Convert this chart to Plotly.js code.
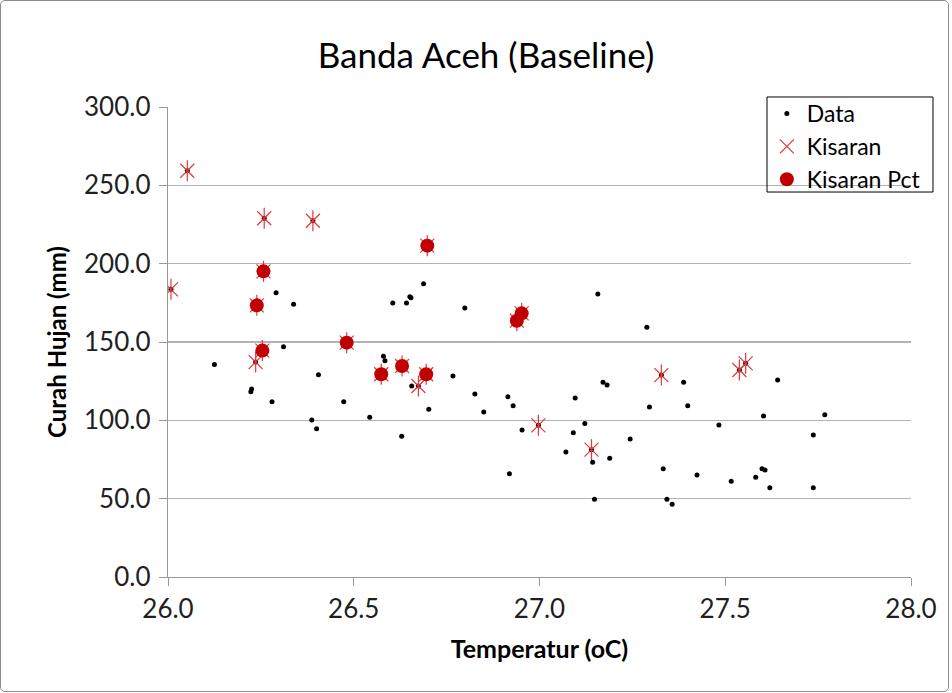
<!DOCTYPE html>
<html>
<head>
<meta charset="utf-8">
<script src="https://cdn.plot.ly/plotly-3.0.1.min.js"></script>
<style>
  html, body { margin: 0; padding: 0; background: #fff; }
  #wrap { position: relative; width: 952px; height: 693px; }
  #chart { width: 952px; height: 693px; }
  #frame { position: absolute; left: 0; top: 0; width: 947px; height: 690px; border: 1px solid #8c8c8c; border-radius: 5px; pointer-events: none; }
</style>
</head>
<body>
<div id="wrap"><div id="chart"></div><div id="frame"></div></div>
<script>
// Data series (all observations)
const dataTemp = [
  26.052, 26.259, 26.390, 26.008, 26.236, 26.674, 26.997, 27.140, 27.328, 27.538, 27.555,
  26.257, 26.239, 26.254, 26.481, 26.698, 26.952, 26.939, 26.574, 26.630, 26.695,
  26.291, 26.338, 26.125, 26.311, 26.223, 26.225, 26.280, 26.405, 26.473, 26.387, 26.400,
  26.688, 26.651, 26.654, 26.605, 26.642, 26.799, 26.580, 26.584, 26.656, 26.767, 26.826,
  26.915, 26.929, 26.850, 26.702, 26.543, 26.629, 26.953, 26.919, 27.157, 27.289, 27.388,
  27.171, 27.182, 27.096, 27.296, 27.399, 27.122, 27.091, 27.483, 27.244, 27.071, 27.143,
  27.189, 27.333, 27.424, 27.148, 27.343, 27.357, 27.641, 27.603, 27.768, 27.737, 27.599,
  27.607, 27.582, 27.516, 27.620, 27.737
];
const dataRain = [
  259.3, 229.0, 227.4, 183.6, 137.2, 121.9, 96.8, 81.3, 128.9, 132.1, 136.4,
  195.1, 173.4, 144.5, 149.6, 211.5, 168.3, 163.6, 129.4, 134.7, 129.4,
  181.5, 174.1, 135.7, 147.0, 118.3, 120.0, 111.9, 129.1, 111.9, 100.2, 94.7,
  187.2, 178.9, 178.3, 174.9, 174.9, 171.7, 140.9, 138.1, 121.9, 128.3, 116.8,
  115.1, 109.3, 105.3, 107.0, 101.9, 89.8, 93.8, 65.9, 180.6, 159.4, 124.3,
  124.3, 122.6, 114.3, 108.5, 109.3, 97.9, 92.1, 97.0, 88.1, 79.8, 73.2,
  75.8, 69.1, 65.1, 49.6, 49.6, 46.4, 125.7, 102.8, 103.6, 90.6, 69.1,
  68.3, 63.6, 61.1, 57.0, 57.0
];

// Kisaran series
const kisaranTemp = [
  26.052, 26.259, 26.390, 26.008, 26.236, 26.674, 26.997, 27.140, 27.328, 27.538, 27.555,
  26.257, 26.239, 26.254, 26.481, 26.698, 26.952, 26.939, 26.574, 26.630, 26.695
];
const kisaranRain = [
  259.3, 229.0, 227.4, 183.6, 137.2, 121.9, 96.8, 81.3, 128.9, 132.1, 136.4,
  195.1, 173.4, 144.5, 149.6, 211.5, 168.3, 163.6, 129.4, 134.7, 129.4
];

// Kisaran Pct series
const pctTemp = [26.257, 26.239, 26.254, 26.481, 26.698, 26.952, 26.939, 26.574, 26.630, 26.695];
const pctRain = [195.1, 173.4, 144.5, 149.6, 211.5, 168.3, 163.6, 129.4, 134.7, 129.4];

const xTicks = [26.0, 26.5, 27.0, 27.5, 28.0];
const yTicks = [0, 50, 100, 150, 200, 250, 300];

const FONT = 'Lato, "Open Sans", sans-serif';
const starColor = '#e2383a';

const traces = [
  {
    x: dataTemp, y: dataRain, type: 'scatter', mode: 'markers', name: 'Data',
    marker: { color: '#000000', size: 5, symbol: 'circle' }
  },
  {
    x: kisaranTemp, y: kisaranRain, type: 'scatter', mode: 'markers', name: 'Kisaran',
    marker: { color: starColor, size: 14, symbol: 'x-thin-open', line: { color: starColor, width: 1.2 } }
  },
  {
    x: kisaranTemp, y: kisaranRain, type: 'scatter', mode: 'markers', name: 'Kisaran',
    showlegend: false, hoverinfo: 'skip',
    marker: { color: starColor, size: 15, symbol: 'line-ns-open', line: { color: starColor, width: 1.2 } }
  },
  {
    x: pctTemp, y: pctRain, type: 'scatter', mode: 'markers', name: 'Kisaran Pct',
    marker: { color: '#c00000', size: 14, symbol: 'circle' }
  }
];

const layout = {
  width: 952, height: 693,
  margin: { l: 168, r: 41, t: 107, b: 116 },
  paper_bgcolor: '#ffffff', plot_bgcolor: '#ffffff',
  font: { family: FONT, color: '#222' },
  title: {
    text: 'Banda Aceh (Baseline)',
    font: { family: FONT, size: 35, color: '#000' },
    x: 0.5105, xanchor: 'center', xref: 'container',
    y: 0.92, yanchor: 'middle', yref: 'container'
  },
  xaxis: {
    range: [26.0, 28.0],
    tickvals: xTicks, tickformat: '.1f',
    ticks: 'outside', ticklen: 8, tickcolor: '#999', tickwidth: 1,
    showline: true, linecolor: '#999', linewidth: 1.3,
    showgrid: false, zeroline: false,
    tickfont: { family: FONT, size: 26, color: '#1f1f1f' },
    title: { text: '<b>Temperatur (oC)</b>', font: { family: FONT, size: 25, color: '#000' }, standoff: 18 }
  },
  yaxis: {
    range: [0, 300],
    tickvals: yTicks, tickformat: '.1f',
    ticks: 'outside', ticklen: 8, tickcolor: '#999', tickwidth: 1,
    ticklabelstandoff: 3,
    showline: true, linecolor: '#999', linewidth: 1.3,
    showgrid: true, gridcolor: '#b3b3b3', gridwidth: 1.3,
    zeroline: false,
    tickfont: { family: FONT, size: 26, color: '#1f1f1f' },
    title: { text: '<b>Curah Hujan (mm)</b>', font: { family: FONT, size: 24, color: '#000' }, standoff: 10 }
  },
  legend: {
    x: 0.806, y: 1.032, xanchor: 'left', yanchor: 'top',
    bgcolor: 'rgba(0,0,0,0)', bordercolor: 'rgba(0,0,0,0)', borderwidth: 0,
    font: { family: FONT, size: 23, color: '#000' },
    tracegroupgap: 0, itemwidth: 30
  },
  shapes: [{
    type: 'rect', xref: 'paper', yref: 'paper',
    x0: 0.8062, x1: 1.0296, y0: 0.8191, y1: 1.0213,
    line: { color: '#000', width: 1 }, fillcolor: 'rgba(0,0,0,0)', layer: 'above'
  }],
  showlegend: true
};

Plotly.newPlot('chart', traces, layout, { displayModeBar: false, staticPlot: true });
</script>
</body>
</html>
